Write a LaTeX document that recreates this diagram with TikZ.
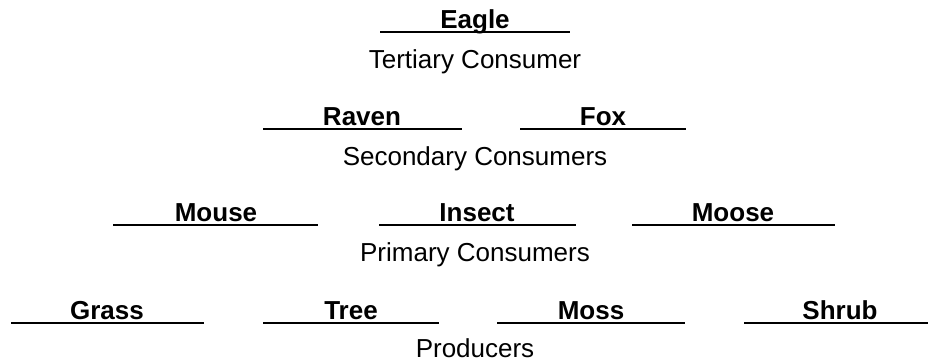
\documentclass[tikz,border=0pt]{standalone}
\usepackage{fontspec}
\setmainfont{Liberation Sans}
\begin{document}
\begin{tikzpicture}[x=1pt,y=-1pt,
  word/.style={anchor=base, inner sep=0pt, font=\fontsize{26}{30}\selectfont\bfseries},
  level/.style={anchor=base, inner sep=0pt, font=\fontsize{26}{30}\selectfont},
  blank/.style={line width=2.5pt}]
\useasboundingbox (0,0) rectangle (928,362);
% Tertiary
\draw[blank] (380,32) -- (570,32);
\node[word] (eagle) at (475,28) {Eagle};
\node[level] (tert) at (475,68) {Tertiary Consumer};
% Secondary
\draw[blank] (263,129) -- (462,129);
\node[word] (raven) at (362,125) {Raven};
\draw[blank] (520,129) -- (686,129);
\node[word] (fox) at (603,125) {Fox};
\node[level] (sec) at (475,165) {Secondary Consumers};
% Primary
\draw[blank] (113,225) -- (318,225);
\node[word] (mouse) at (216,221) {Mouse};
\draw[blank] (379,225) -- (576,225);
\node[word] (insect) at (477,221) {Insect};
\draw[blank] (632,225) -- (835,225);
\node[word] (moose) at (733,221) {Moose};
\node[level] (prim) at (475,261) {Primary Consumers};
% Producers
\draw[blank] (11,323) -- (204,323);
\node[word] (grass) at (107,319) {Grass};
\draw[blank] (263,323) -- (439,323);
\node[word] (tree) at (351,319) {Tree};
\draw[blank] (497,323) -- (685,323);
\node[word] (moss) at (591,319) {Moss};
\draw[blank] (744,323) -- (928,323);
\node[word] (shrub) at (840,319) {Shrub};
\node[level] (prod) at (475,357) {Producers};
\end{tikzpicture}
\end{document}
